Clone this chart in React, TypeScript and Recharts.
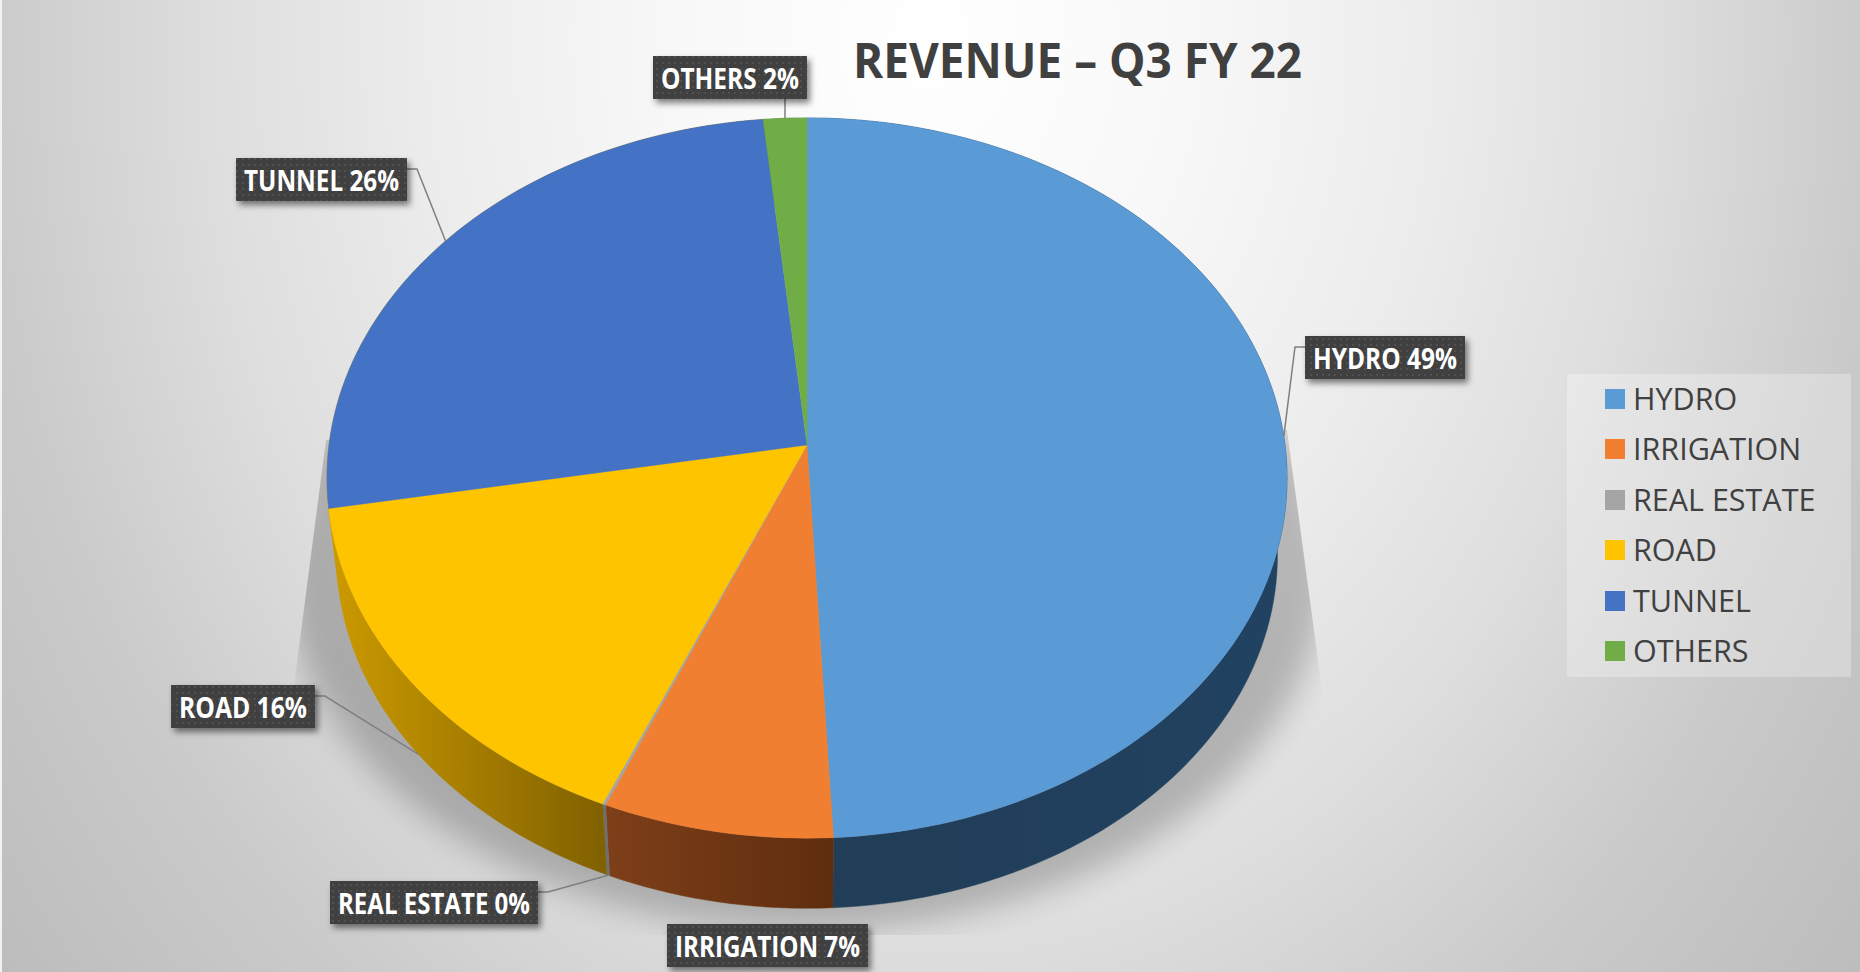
import React from "react";
import { PieChart, Pie, Legend } from "recharts";

const categories = ["HYDRO", "IRRIGATION", "REAL ESTATE", "ROAD", "TUNNEL", "OTHERS"];
const shares = [49.2, 7.1, 0.1, 15.8, 26.2, 1.6];
const topColors = ["#5b9bd5", "#f07f31", "#a5a5a5", "#ffc400", "#4472c4", "#70ad47"];
const wallColors = ["url(#wallHydro)", "url(#wallIrrigation)", "#6f6f6f", "url(#wallRoad)", "url(#wallRoad)", "#44692b"];
const chartTitle = "REVENUE – Q3 FY 22";

const pieData = categories.map((name, i) => ({ name, value: shares[i], fill: topColors[i], wall: wallColors[i] }));

// Layout only: label boxes (left, top, width) and which rim the leader line meets.
const labelBoxes: Record<string, { x: number; y: number; w: number; rim: "top" | "bottom" | null; side: string }> = {
  HYDRO: { x: 1305, y: 336, w: 160, rim: "top", side: "l" },
  IRRIGATION: { x: 667, y: 924, w: 201, rim: null, side: "r" },
  "REAL ESTATE": { x: 330, y: 881, w: 208, rim: "bottom", side: "r" },
  ROAD: { x: 171, y: 685, w: 144, rim: "bottom", side: "r" },
  TUNNEL: { x: 236, y: 158, w: 171, rim: "top", side: "r" },
  OTHERS: { x: 653, y: 56, w: 154, rim: "top", side: "b" },
};
const BOX_H = 43;
const PERSPECTIVE = 0.0917;
const X_RATIO = 0.996;
const Y_RATIO = 0.744;
const WALL_SCALE = 0.98;
const WALL_DROP = 78;

const RAD = Math.PI / 180;

// Tilted disc: maps a polar angle (degrees) on the pie rim to the drawn point.
function rimPoint(cx: number, cy: number, r: number, deg: number) {
  const u = Math.cos(deg * RAD);
  const v = -Math.sin(deg * RAD);
  const w = 1 - PERSPECTIVE * v;
  return { x: cx + (r * X_RATIO * u) / w, y: cy + (r * Y_RATIO * v) / w };
}
function lowerPoint(cx: number, cy: number, p: { x: number; y: number }) {
  return { x: cx + (p.x - cx) * WALL_SCALE, y: cy + (p.y - cy) * WALL_SCALE + WALL_DROP };
}
function rimSamples(cx: number, cy: number, r: number, a0: number, a1: number) {
  const n = Math.max(2, Math.ceil(Math.abs(a1 - a0) / 1.5));
  const pts = [];
  for (let i = 0; i <= n; i++) pts.push(rimPoint(cx, cy, r, a0 + ((a1 - a0) * i) / n));
  return pts;
}
const toPath = (pts: { x: number; y: number }[]) =>
  "M" + pts.map((p) => `${p.x.toFixed(2)},${p.y.toFixed(2)}`).join("L") + "Z";

function TopFace(props: any) {
  const { cx, cy, outerRadius, startAngle, endAngle, fill } = props;
  const pts = [{ x: cx, y: cy }, ...rimSamples(cx, cy, outerRadius, startAngle, endAngle)];
  return <path d={toPath(pts)} fill={fill} stroke={fill} strokeWidth={0.4} />;
}

function WallFace(props: any) {
  const { cx, cy, outerRadius, startAngle, endAngle, payload, wall } = props;
  const top = rimSamples(cx, cy, outerRadius, startAngle, endAngle);
  const bottom = top.map((p) => lowerPoint(cx, cy, p)).reverse();
  const f = wall ?? payload?.wall;
  return <path d={toPath([...top, ...bottom])} fill={f} stroke={f} strokeWidth={0.4} />;
}

function SliceLabel(props: any) {
  const { cx, cy, outerRadius, midAngle, name, percent } = props;
  const box = labelBoxes[name];
  if (!box) return null;
  const text = `${name} ${Math.round(percent * 100)}%`;
  let leader: string | null = null;
  if (box.rim) {
    const top = rimPoint(cx, cy, outerRadius, midAngle);
    const end = box.rim === "top" ? top : lowerPoint(cx, cy, top);
    if (box.side === "b") {
      leader = `M${end.x},${box.y + BOX_H}L${end.x},${end.y}`;
    } else {
      const edge = box.side === "l" ? box.x : box.x + box.w;
      const elbow = box.side === "l" ? edge - 10 : edge + 10;
      const ly = box.y + 11;
      leader = `M${edge},${ly}L${elbow},${ly}L${end.x},${end.y}`;
    }
  }
  return (
    <g>
      {leader && <path d={leader} fill="none" stroke="#7f7f7f" strokeWidth={1.5} />}
      <rect x={box.x} y={box.y} width={box.w} height={BOX_H} fill="#404040" filter="url(#boxShadow)" />
      <rect x={box.x} y={box.y} width={box.w} height={BOX_H} fill="url(#boxDots)" />
      <text
        x={box.x + 8}
        y={box.y + BOX_H / 2}
        dominantBaseline="central"
        textLength={box.w - 16}
        lengthAdjust="spacingAndGlyphs"
        fill="#ffffff"
        fontFamily="'Open Sans', sans-serif"
        fontWeight={700}
        fontSize={28}
      >
        {text}
      </text>
    </g>
  );
}

function LegendBox({ payload }: any) {
  const items = categories.map((c) => (payload ?? []).find((e: any) => e.value === c)).filter(Boolean);
  return (
    <div style={{ width: 284, height: 303, background: "rgba(255,255,255,0.28)", position: "relative" }}>
      {items.map((e: any, i: number) => (
        <div
          key={e.value}
          style={{
            position: "absolute",
            left: 38,
            top: 15 + i * 50.4,
            height: 20,
            display: "flex",
            alignItems: "center",
            whiteSpace: "nowrap",
          }}
        >
          <span style={{ width: 20, height: 20, background: e.color, display: "inline-block", marginRight: 8 }} />
          <span
            style={{
              fontFamily: "'Open Sans', sans-serif",
              fontSize: 30.5,
              color: "#404040",
              position: "relative",
              top: -1,
            }}
          >
            {e.value}
          </span>
        </div>
      ))}
    </div>
  );
}

export default function App() {
  return (
    <div
      style={{
        position: "absolute",
        left: 0,
        top: 0,
        width: 1860,
        height: 972,
        overflow: "hidden",
        background:
          "radial-gradient(ellipse 1200px 1500px at 930px 40px, #ffffff 0%, #f8f8f8 21%, #ececec 42%, #dedede 60%, #cacaca 79%, #bcbcbc 100%)",
      }}
    >
      <div style={{ position: "absolute", left: 0, top: 0, width: 2, height: 972, background: "#f2f2f2" }} />
      <svg width={1860} height={972} style={{ position: "absolute", left: 0, top: 0 }}>
        <defs>
          <filter id="softShadow" x="-20%" y="-20%" width="140%" height="140%">
            <feGaussianBlur stdDeviation="16" />
          </filter>
          <clipPath id="shadowClip">
            <polygon points="326,440 296,670 270,935 1340,935 1320,675 1287,430" />
          </clipPath>
        </defs>
        <g clipPath="url(#shadowClip)">
          <ellipse cx={806} cy={568} rx={520} ry={362} fill="#000000" opacity={0.22} filter="url(#softShadow)" />
        </g>
      </svg>
      <div style={{ position: "absolute", left: 0, top: 0 }}>
        <PieChart width={1860} height={972} margin={{ top: 0, right: 0, bottom: 0, left: 0 }}>
          <defs>
            <linearGradient id="wallRoad" gradientUnits="userSpaceOnUse" x1="330" y1="0" x2="610" y2="0">
              <stop offset="0%" stopColor="#cc9a00" />
              <stop offset="100%" stopColor="#7f6000" />
            </linearGradient>
            <linearGradient id="wallIrrigation" gradientUnits="userSpaceOnUse" x1="606" y1="0" x2="836" y2="0">
              <stop offset="0%" stopColor="#7e3f19" />
              <stop offset="100%" stopColor="#5e2d0e" />
            </linearGradient>
            <linearGradient id="wallHydro" gradientUnits="userSpaceOnUse" x1="836" y1="0" x2="1280" y2="0">
              <stop offset="0%" stopColor="#213d57" />
              <stop offset="100%" stopColor="#214261" />
            </linearGradient>
            <pattern id="boxDots" width="6" height="6" patternUnits="userSpaceOnUse">
              <circle cx="3" cy="3" r="0.9" fill="#585858" />
            </pattern>
            <filter id="boxShadow" x="-10%" y="-20%" width="120%" height="150%">
              <feDropShadow dx="3" dy="4" stdDeviation="3" floodColor="#000000" floodOpacity="0.5" />
            </filter>
          </defs>
          <Pie
            data={pieData}
            dataKey="value"
            nameKey="name"
            cx={807}
            cy={445}
            outerRadius={480}
            startAngle={90}
            endAngle={-270}
            stroke="none"
            legendType="none"
            isAnimationActive={false}
            shape={WallFace}
          />
          <Pie
            data={pieData}
            dataKey="value"
            nameKey="name"
            cx={807}
            cy={445}
            outerRadius={480}
            startAngle={90}
            endAngle={-270}
            stroke="none"
            isAnimationActive={false}
            shape={TopFace}
            label={SliceLabel}
            labelLine={false}
          />
          <text
            x={853}
            y={78}
            textLength={449}
            lengthAdjust="spacingAndGlyphs"
            fill="#404040"
            fontFamily="'Open Sans', sans-serif"
            fontWeight={700}
            fontSize={48}
          >
            {chartTitle}
          </text>
          <Legend
            layout="vertical"
            align="right"
            verticalAlign="top"
            itemSorter={null}
            content={LegendBox}
            wrapperStyle={{ left: 1567, right: "auto", top: 374, width: 284 }}
          />
        </PieChart>
      </div>
    </div>
  );
}
